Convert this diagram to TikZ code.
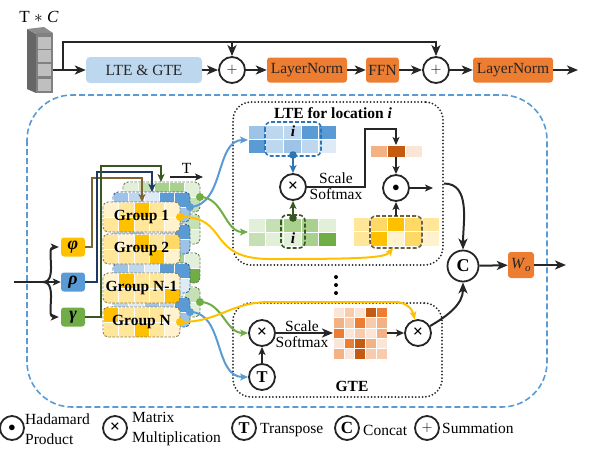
\documentclass[tikz,border=0pt]{standalone}
\usepackage{fontspec}
\setmainfont{Liberation Serif}
\usetikzlibrary{arrows.meta}

\definecolor{yA}{HTML}{FFF2CC}
\definecolor{yB}{HTML}{FFE699}
\definecolor{yC}{HTML}{FFD966}
\definecolor{yD}{HTML}{FFC000}
\definecolor{bA}{HTML}{DEEBF7}
\definecolor{bB}{HTML}{BDD7EE}
\definecolor{bC}{HTML}{9DC3E6}
\definecolor{bD}{HTML}{5B9BD5}
\definecolor{bE}{HTML}{2E75B6}
\definecolor{gA}{HTML}{E2F0D9}
\definecolor{gB}{HTML}{C5E0B4}
\definecolor{gC}{HTML}{A9D18E}
\definecolor{gD}{HTML}{70AD47}
\definecolor{gE}{HTML}{385723}
\definecolor{oA}{HTML}{FBE5D6}
\definecolor{oB}{HTML}{F8CBAD}
\definecolor{oC}{HTML}{F4B183}
\definecolor{oD}{HTML}{ED7D31}
\definecolor{oE}{HTML}{C55A11}
\definecolor{navy}{HTML}{1F3864}
\definecolor{umber}{HTML}{7F6430}
\definecolor{yedge}{HTML}{8C7A50}
\definecolor{bedge}{HTML}{2E5E90}
\definecolor{gedge}{HTML}{5E7F4E}

\newcommand{\cellgrid}[6]{%
	\foreach \cellcol [count=\idx from 0] in {#6} {
		\pgfmathsetmacro{\cx}{#1+#3*mod(\idx,#5)}
		\pgfmathsetmacro{\cy}{#2+#4*int(\idx/#5)}
		\fill [\cellcol, draw=white, line width=0.6] (\cx,\cy) rectangle ++(#3,#4);
	}}

\newcommand{\groupblock}[4]{%
	\begin{scope}
		\clip [rounded corners=5] (#1,#2) rectangle ++(77,30);
		\cellgrid{#1}{#2}{15.4}{15}{5}{#3}
	\end{scope}
	\draw [#4, dash pattern=on 2.5pt off 1.5pt, line width=0.9, rounded corners=5] (#1,#2) rectangle ++(77,30);}

\newcommand{\mtimes}{{\fontsize{18}{18}\selectfont\textbf{×}}}

\tikzset{
	conn/.style={line width=2, draw=black!85},
	op/.style={draw=black!85, fill=white, circle, line width=1.8, minimum size=26, inner sep=0},
	bluebox/.style={fill=bB, rounded corners=4, minimum width=116, minimum height=26, text=black!85},
	orangebox/.style={fill=oD, rounded corners=3, minimum height=25, inner sep=1, text=black!85},
	greekbox/.style={rounded corners=3, minimum width=24, minimum height=19, inner sep=0, font=\fontsize{18}{18}\selectfont},
	dotbox/.style={draw=black!85, line width=2, dash pattern=on 0pt off 3.4pt, line cap=round, rounded corners=18},
	boldtext/.style={font=\fontsize{15.5}{18}\selectfont\bfseries},
	lgtext/.style={anchor=west, align=left, inner sep=1, font=\fontsize{15.5}{20}\selectfont},
	thin arrow/.style={-{Stealth[length=8pt, width=7pt, inset=2pt]}}
}

\begin{document}
\begin{tikzpicture}[x=1pt, y=-1pt, >={Stealth[length=11pt, width=9pt, inset=3pt]}, font=\fontsize{15.5}{16}\selectfont]
	\useasboundingbox (0,0) rectangle (607,448);
	\coordinate (X) at (53,70);
	\coordinate (R) at (63,70);
	\coordinate (top) at (0,42);
	\coordinate (out) at (578,70);

	\fill [black!60] (27,29) -- (36,34) -- (36,93) -- (27,89) -- cycle;
	\fill [black!45] (27,29) -- (44,27) -- (53,33) -- (36,34) -- cycle;
	\fill [black!50] (36,33) rectangle (53,93);
	\foreach \yy in {37,50,64,79} \fill [black!25] (38,\yy) rectangle ++(13,12);
	\node [font=\fontsize{17}{18}\selectfont] (tc) at (39,17) {T $*$ \textit{C}};

	\node [bluebox] (lte) at (144,70) {LTE \& GTE};
	\node [op] (sum1) at (232,70) {$+$};
	\node [orangebox, minimum width=80] (ln1) at (307,70) {LayerNorm};
	\node [orangebox, minimum width=33] (ffn) at (382.5,70) {FFN};
	\node [op] (sum2) at (436,70) {$+$};
	\node [orangebox, minimum width=80] (ln2) at (513,70) {LayerNorm};
	\draw [conn, ->] (X) -- (lte);
	\draw [conn, ->] (lte) -- (sum1);
	\draw [conn, ->] (sum1) -- (ln1);
	\draw [conn, ->] (ln1) -- (ffn);
	\draw [conn, ->] (ffn) -- (sum2);
	\draw [conn, ->] (sum2) -- (ln2);
	\draw [conn, ->] (ln2) -- (out);
	\draw [conn, ->] (R) |- (sum2 |- top) -- (sum2);
	\draw [conn, ->] (sum1 |- top) -- (sum1);

	\draw [bD, line width=1.6, dash pattern=on 6pt off 3pt, rounded corners=45] (27,95) rectangle (547,407);

	\node [greekbox, fill=yD] (phi) at (73,247) {\textbf{\textit{φ}}};
	\node [greekbox, fill=bD] (rho) at (73,282) {\textbf{\textit{ρ}}};
	\node [greekbox, fill=gD] (gam) at (73,317) {\textbf{\textit{γ}}};
	\coordinate (in) at (14,282);
	\coordinate (fork) at (43,282);
	\draw [conn] (in) -- (fork);
	\draw [conn, thin arrow] (fork) -- (rho);
	\draw [conn, thin arrow, shorten >=2pt] (fork) to [out=0, in=180] (phi.west);
	\draw [conn, thin arrow, shorten >=2pt] (fork) to [out=0, in=180] (gam.west);

	\groupblock{123}{182}{gA,gB,gC,gC,gA,gB,gA,gB,gC,gB}{gedge}
	\groupblock{123}{214}{gB,gA,gC,gB,gB,gA,gB,gA,gC,gA}{gedge}
	\groupblock{123}{253}{gA,gB,gA,gC,gA,gB,gA,gB,gC,gD}{gedge}
	\groupblock{123}{287}{gB,gA,gC,gA,gB,gA,gB,gA,gC,gA}{gedge}
	\groupblock{113}{192}{bC,bB,bA,bD,bD,bD,bB,bC,bB,bC}{bedge}
	\groupblock{113}{224}{bB,bC,bA,bB,bD,bA,bB,bC,bA,bC}{bedge}
	\groupblock{113}{263}{bC,bB,bA,bD,bD,bB,bA,bB,bC,bA}{bedge}
	\groupblock{113}{297}{bB,bA,bC,bB,bD,bA,bB,bC,bA,bC}{bedge}
	\groupblock{103}{202}{yA,yB,yD,yB,yA,yB,yD,yB,yB,yA}{yedge}
	\groupblock{103}{234}{yB,yA,yD,yB,yC,yB,yB,yB,yD,yA}{yedge}
	\groupblock{103}{273}{yA,yD,yB,yB,yA,yB,yB,yB,yB,yD}{yedge}
	\groupblock{103}{307}{yD,yB,yB,yB,yA,yB,yB,yD,yB,yA}{yedge}
	\node [boldtext] (grp1) at (141.5,217) {Group 1};
	\node [boldtext] (grp2) at (141.5,249) {Group 2};
	\node [boldtext] (grp3) at (141.5,288) {Group N-1};
	\node [boldtext] (grp4) at (141.5,322) {Group N};

	\coordinate (phiin) at (142,202);
	\coordinate (rhoin) at (152,192);
	\coordinate (gamin) at (161,182);
	\draw [umber, line width=2, thin arrow] (phi.east) -- (92,247) |- (phiin |- 0,178) -- (phiin);
	\draw [navy, line width=2, thin arrow] (rho.east) -- (97,282) |- (rhoin |- 0,172) -- (rhoin);
	\draw [gE, line width=2, thin arrow] (gam.east) -- (101,317) |- (gamin |- 0,166) -- (gamin);

	\coordinate (Ta) at (170,177);
	\coordinate (Tb) at (203,177);
	\draw [conn, thin arrow] (Ta) -- (Tb) node [midway, above=-1pt] {T};

	\node [dotbox, minimum width=210, minimum height=163] (ltebox) at (338,183.5) {};
	\node [boldtext] (ltetitle) at (333,113) {LTE for location \textit{i}};

	\cellgrid{248}{125}{17.6}{14}{5}{bC,bB,bB,bD,bD,bD,bB,bC,bB,bA}
	\draw [bE, line width=1.6, dash pattern=on 4pt off 2pt, rounded corners=6] (265,122) rectangle (321,156);
	\node (qi) at (293,131) {\textbf{\textit{i}}};
	\coordinate (qdot) at (293,155);
	\node [op] (mul1) at (293,187) {\mtimes};
	\fill [bE] (qdot) circle (3.8);
	\draw [bE, line width=1.6, thin arrow] (qdot) -- (mul1);

	\cellgrid{248}{218}{17.6}{14}{5}{gA,gB,gC,gC,gA,gB,gA,gA,gC,gD}
	\draw [gE, line width=1.6, dash pattern=on 4pt off 2pt, rounded corners=6] (281,215) rectangle (305,248);
	\node (ki) at (293,238) {\textbf{\textit{i}}};
	\coordinate (kdot) at (293,218);
	\fill [gE] (kdot) circle (3.8);
	\draw [gE, line width=1.6, thin arrow] (kdot) -- (mul1);

	\node [align=center] (ss1) at (336,186) {Scale\\Softmax};
	\cellgrid{370}{145}{17.5}{12}{3}{oC,oE,oA}
	\coordinate (attn) at (396,145);
	\coordinate (attb) at (396,157);
	\node [op] (had) at (396,188) {$\bullet$};
	\draw [conn, thin arrow] (mul1) -- (365,187) |- (396,129) -- (attn);
	\draw [conn, thin arrow] (attb) -- (had);
	\coordinate (hout) at (433,188);
	\draw [conn, thin arrow] (had) -- (hout);

	\cellgrid{353}{217}{17.2}{14.5}{5}{yB,yC,yD,yC,yB,yB,yD,yA,yC,yA}
	\draw [yedge!80!black, line width=1.6, dash pattern=on 4pt off 2pt, rounded corners=6] (370,216) rectangle (422,248);
	\coordinate (vtop) at (396,216);
	\coordinate (vin) at (393,248);
	\draw [conn, thin arrow] (vtop) -- (had);

	\foreach \yy in {277,285,293} \fill (336,\yy) circle (2);

	\node [dotbox, minimum width=209, minimum height=94] (gtebox) at (337.5,350) {};
	\node [boldtext] (gtetitle) at (352,386) {GTE};
	\node [op] (mul2) at (262,333) {\mtimes};
	\node [op, font=\fontsize{16.5}{18}\selectfont\bfseries] (tr) at (262,377) {T};
	\draw [conn, thin arrow] (tr) -- (mul2);
	\node [align=center] (ss2) at (302,334) {Scale\\Softmax};
	\cellgrid{333}{307}{10.8}{10.4}{5}{oA,oB,oA,oE,oD,oC,oB,oD,oB,oC,oD,oA,oB,oA,oC,oA,oD,oE,oC,oA,oC,oA,oE,oB,oB}
	\coordinate (gin) at (333,333);
	\coordinate (gout) at (387,333);
	\draw [conn, ->] (mul2) -- (gin);
	\node [op] (mul3) at (418,333) {\mtimes};
	\draw [conn, thin arrow] (gout) -- (mul3);

	\node [op, minimum size=31, font=\fontsize{18}{18}\selectfont\bfseries] (cat) at (463,266) {C};
	\draw [conn, ->] (ltebox.east) to [out=0, in=90] (cat);
	\draw [conn, ->] (mul3) to [out=30, in=-90] (cat);
	\node [orangebox, minimum width=26, minimum height=26] (wo) at (521,265) {\textit{W}\textsubscript{\textit{o}}};
	\coordinate (woout) at (566,265);
	\draw [conn, ->] (cat) -- (wo);
	\draw [conn, ->] (wo) -- (woout);

	\coordinate (Y1) at (180,217);
	\coordinate (B1) at (190,207);
	\coordinate (G1) at (200,197);
	\coordinate (YN) at (180,322);
	\coordinate (BN) at (190,312);
	\coordinate (GN) at (200,302);
	\coordinate (qin) at (248,140);
	\coordinate (kin) at (248,232);
	\draw [bD, line width=2, thin arrow] (B1) .. controls (225,205) and (215,140) .. (qin);
	\draw [gD, line width=2, thin arrow] (G1) to [out=0, in=180] (kin);
	\draw [yD, line width=2, thin arrow] (Y1) .. controls (230,216) and (205,259) .. (270,259) .. controls (360,259) and (385,258) .. (vin);
	\draw [gD, line width=2, thin arrow] (GN) to [out=0, in=180] (mul2);
	\draw [bD, line width=2, thin arrow] (BN) to [out=0, in=180] (tr);
	\draw [yD, line width=2, thin arrow] (YN) .. controls (220,322) and (230,302) .. (270,302) -- (395,302) .. controls (405,302) and (412,308) .. (mul3);
	\foreach \dd/\cc in {Y1/yD, B1/bD, G1/gD, YN/yD, BN/bD, GN/gD} \fill [\cc] (\dd) circle (4);

	\node [op, minimum size=24] (lhad) at (12,428) {$\bullet$};
	\node [lgtext] (thad) at (24,429) {Hadamard\\Product};
	\node [op, minimum size=24] (lmul) at (115,428) {\mtimes};
	\node [lgtext] (tmul) at (131,429) {Matrix\\Multiplication};
	\node [op, minimum size=24, font=\fontsize{16.5}{18}\selectfont\bfseries] (ltr) at (244,428) {T};
	\node [lgtext] (ttr) at (259,430) {Transpose};
	\node [op, minimum size=24, font=\fontsize{17}{18}\selectfont\bfseries] (lcat) at (347,428) {C};
	\node [lgtext] (tcat) at (362,430) {Concat};
	\node [op, minimum size=24] (lsum) at (427,428) {$+$};
	\node [lgtext] (tsum) at (441,428) {Summation};
\end{tikzpicture}
\end{document}
